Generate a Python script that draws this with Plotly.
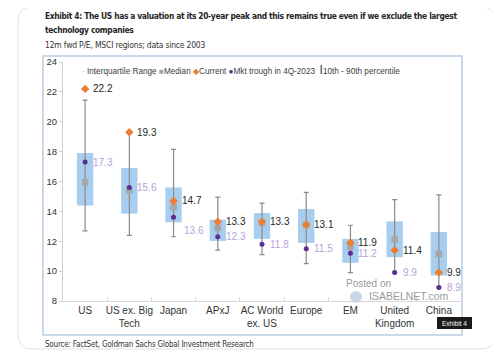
import plotly.graph_objects as go

categories = ["US", "US ex. Big<br>Tech", "Japan", "APxJ", "AC World<br>ex. US", "Europe", "EM", "United<br>Kingdom", "China"]
p10 = [12.7, 12.4, 12.3, 11.4, 11.1, 10.5, 9.9, 9.95, 8.95]
q1 = [14.4, 13.85, 13.27, 12.02, 12.16, 11.89, 10.56, 10.93, 9.71]
median = [15.95, 15.4, 14.3, 12.9, 13.25, 13.1, 11.62, 12.11, 11.16]
q3 = [17.9, 16.9, 15.6, 13.45, 13.89, 14.16, 12.16, 13.33, 12.62]
p90 = [21.45, 19.35, 18.15, 14.95, 14.55, 15.27, 13.07, 14.78, 15.1]
current = [22.2, 19.3, 14.7, 13.3, 13.3, 13.1, 11.9, 11.4, 9.9]
trough = [17.3, 15.6, 13.6, 12.3, 11.8, 11.5, 11.2, 9.9, 8.9]

# page has an 8px body margin; figure is sized so it fills the 500x358 window
OFF = 8
W, H = 500 - OFF, 358 - OFF
L, R, T, B = 63 - OFF, 39, 62 - OFF, 57
PW, PH = W - L - R, H - T - B


def px(x):  # window pixel -> paper
    return (x - OFF - L) / PW


def py(y):
    return 1 - (y - OFF - T) / PH


fig = go.Figure()

fig.add_trace(go.Bar(
    x=categories, y=[b - a for a, b in zip(q1, q3)], base=q1,
    width=0.37, marker=dict(color="#A7CEEE", line=dict(width=0)),
    showlegend=False, hoverinfo="skip"))

fig.add_trace(go.Scatter(
    x=categories, y=median, mode="markers",
    marker=dict(size=1, color="rgba(0,0,0,0)"),
    error_y=dict(type="data", symmetric=False,
                 array=[h - m for h, m in zip(p90, median)],
                 arrayminus=[m - l for m, l in zip(median, p10)],
                 color="#8A8A8A", thickness=1.2, width=2.5),
    showlegend=False, hoverinfo="skip"))

fig.add_trace(go.Scatter(
    x=categories, y=median, mode="markers",
    marker=dict(symbol="square", size=6.5, color="#A6A6A6"),
    showlegend=False))
fig.add_trace(go.Scatter(
    x=categories, y=trough, mode="markers",
    marker=dict(symbol="circle", size=5, color="#5A2D91"),
    showlegend=False))
fig.add_trace(go.Scatter(
    x=categories, y=current, mode="markers",
    marker=dict(symbol="diamond", size=6.5, color="#ED7D31"),
    showlegend=False))

annotations = []
trough_shift = {2: (8, -13)}
for i, c in enumerate(categories):
    annotations.append(dict(x=c, y=current[i], xref="x", yref="y", text=f"{current[i]:.1f}",
                            showarrow=False, xanchor="left", xshift=6,
                            font=dict(size=10, color="#262626", family="Liberation Sans")))
    dx, dy = trough_shift.get(i, (6, 0))
    annotations.append(dict(x=c, y=trough[i], xref="x", yref="y", text=f"{trough[i]:.1f}",
                            showarrow=False, xanchor="left", xshift=dx, yshift=dy,
                            font=dict(size=10, color="#B7A3DA", family="Liberation Sans")))

TF = "DejaVu Sans"
COND = "font-stretch:condensed;letter-spacing:-0.2px"
CONDT = "font-stretch:condensed;letter-spacing:-0.35px"
annotations += [
    dict(x=px(43), y=py(16), xref="paper", yref="paper", xanchor="left", yanchor="middle", align="left",
         text=f"<span style='{CONDT}'><b>Exhibit 4: The US has a valuation at its 20-year peak and this remains true even if we exclude the largest</b></span>",
         showarrow=False, font=dict(size=8.4, color="#262626", family=TF)),
    dict(x=px(43), y=py(30), xref="paper", yref="paper", xanchor="left", yanchor="middle", align="left",
         text=f"<span style='{CONDT}'><b>technology companies</b></span>",
         showarrow=False, font=dict(size=8.4, color="#262626", family=TF)),
    dict(x=px(43), y=py(45), xref="paper", yref="paper", xanchor="left", yanchor="middle", align="left",
         text=f"<span style='{COND}'>12m fwd P/E, MSCI regions; data since 2003</span>",
         showarrow=False, font=dict(size=8.5, color="#333333", family=TF)),
    dict(x=px(43), y=py(344), xref="paper", yref="paper", xanchor="left", yanchor="middle", align="left",
         text=f"<span style='{COND}'>Source: FactSet, Goldman Sachs Global Investment Research</span>",
         showarrow=False, font=dict(size=8, color="#333333", family=TF)),
    dict(x=px(80), y=py(70), xref="paper", yref="paper", xanchor="left", yanchor="middle", align="left",
         text=("<span style='color:#A7CEEE'>-</span> Interquartile Range "
               "<span style='color:#A6A6A6'>■</span>Median "
               "<span style='color:#ED7D31'>◆</span>Current "
               "<span style='color:#5A2D91'>●</span>Mkt trough in 4Q-2023  "
               "<span style='font-size:12px'>I</span>10th - 90th percentile"),
         showarrow=False, font=dict(size=8.2, color="#404040", family="Liberation Sans")),
    dict(x=px(368), y=py(283), xref="paper", yref="paper", xanchor="center", yanchor="middle",
         text="Posted on", showarrow=False,
         font=dict(size=10, color="#9A9A9A", family="Liberation Sans")),
    dict(x=px(367), y=py(296), xref="paper", yref="paper", xanchor="left", yanchor="middle", align="left",
         text="ISABELNET.com", showarrow=False,
         font=dict(size=10.5, color="#9A9A9A", family="Liberation Sans")),
    dict(x=px(454.5), y=py(323), xref="paper", yref="paper", xanchor="center", yanchor="middle",
         text="Exhibit 4", showarrow=False,
         font=dict(size=6.5, color="#FFFFFF", family="Liberation Sans")),
]

x0, x1, y0, y1, r = px(18), px(495), py(7), py(349), 14
rx, ry = r / PW, r / PH
card = (f"M {x0+rx},{y0} L {x1-rx},{y0} Q {x1},{y0} {x1},{y0-ry} "
        f"L {x1},{y1+ry} Q {x1},{y1} {x1-rx},{y1} L {x0+rx},{y1} "
        f"Q {x0},{y1} {x0},{y1+ry} L {x0},{y0-ry} Q {x0},{y0} {x0+rx},{y0} Z")
shapes = [
    dict(type="path", path=card, xref="paper", yref="paper",
         line=dict(color="#E2E2E2", width=1), layer="below"),
    dict(type="rect", x0=px(43), x1=px(462), y0=py(56), y1=py(335), xref="paper", yref="paper",
         line=dict(color="#B9CDE4", width=1.5), layer="below"),
    dict(type="circle", x0=px(350), x1=px(362), y0=py(291), y1=py(303), xref="paper", yref="paper",
         fillcolor="#C9D6E3", line=dict(width=0)),
    dict(type="rect", x0=px(437), x1=px(472), y0=py(317), y1=py(329), xref="paper", yref="paper",
         fillcolor="#1A1A1A", line=dict(width=0)),
]

fig.update_layout(
    width=W, height=H, margin=dict(l=L, r=R, t=T, b=B),
    paper_bgcolor="white", plot_bgcolor="white",
    showlegend=False, annotations=annotations, shapes=shapes,
    xaxis=dict(type="category", range=[-0.5, 8.5], showgrid=False, tickangle=0,
               showline=True, linecolor="#D9D9D9", linewidth=1,
               ticks="inside", tickson="boundaries", ticklen=4, tickcolor="#D9D9D9",
               tickfont=dict(size=10, color="#333333", family="Liberation Sans")),
    yaxis=dict(range=[8, 24], dtick=2, showgrid=False, zeroline=False,
               showline=True, linecolor="#D0D0D0", linewidth=1,
               ticks="outside", ticklen=3, tickcolor="#D0D0D0",
               tickfont=dict(size=9.5, color="#333333", family="Liberation Sans")),
)

fig.write_html("out.html")
